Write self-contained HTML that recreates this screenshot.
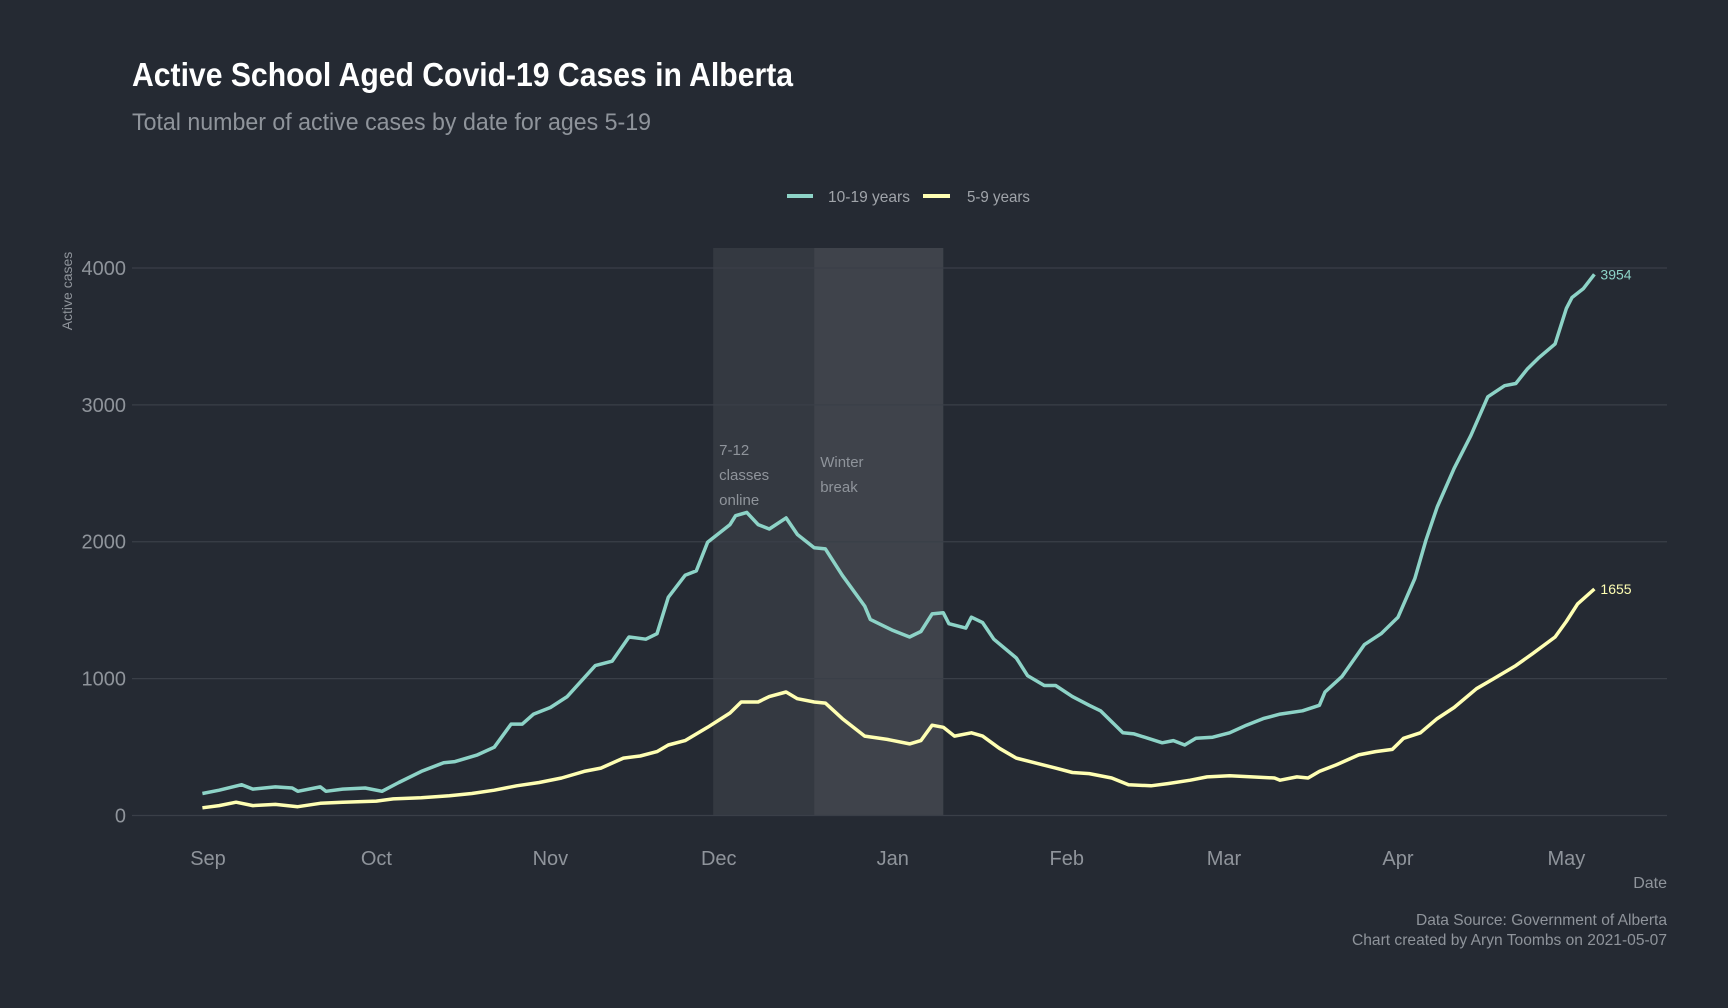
<!DOCTYPE html>
<html><head><meta charset="utf-8"><style>
html,body{margin:0;padding:0;background:#252a33;}
svg{display:block;font-family:"Liberation Sans",sans-serif;}
</style></head><body>
<svg id="chart" width="1728" height="1008" viewBox="0 0 1728 1008">
<rect width="1728" height="1008" fill="#252a33"/>
<text x="132" y="86" font-size="33" font-weight="bold" fill="#ffffff" textLength="661" lengthAdjust="spacingAndGlyphs">Active School Aged Covid-19 Cases in Alberta</text>
<text x="132" y="130" font-size="24" fill="#8f949b" textLength="519" lengthAdjust="spacingAndGlyphs">Total number of active cases by date for ages 5-19</text>
<g>
<line x1="787" y1="196" x2="813" y2="196" stroke="#8dd3c7" stroke-width="4"/>
<text x="828" y="202" font-size="16" fill="#a0a4aa" textLength="82" lengthAdjust="spacingAndGlyphs">10-19 years</text>
<line x1="923" y1="196" x2="950" y2="196" stroke="#ffffb3" stroke-width="4"/>
<text x="967" y="202" font-size="16" fill="#a0a4aa" textLength="63" lengthAdjust="spacingAndGlyphs">5-9 years</text>
</g>
<g id="shades"></g>
<g id="grid"></g>
<g id="xaxis"></g>
<g id="series"></g>
<text transform="translate(72,291) rotate(-90)" text-anchor="middle" font-size="14" fill="#8f949b">Active cases</text>
<text x="1667" y="888" text-anchor="end" font-size="16" fill="#8f949b">Date</text>
<text x="1667" y="925" text-anchor="end" font-size="16" fill="#8f949b" textLength="251" lengthAdjust="spacingAndGlyphs">Data Source: Government of Alberta</text>
<text x="1667" y="945" text-anchor="end" font-size="16" fill="#8f949b" textLength="315" lengthAdjust="spacingAndGlyphs">Chart created by Aryn Toombs on 2021-05-07</text>
</svg>
<script>
// days since Sep 1 2020
const days1019 = [-1,2,6,8,12,15,16,20,21,24,28,31,34,38,42,44,48,51,54,56,58,61,64,69,72,75,78,80,82,85,87,89,93,94,96,98,100,103,105,108,110,113,117,118,122,125,127,129,131,132,135,136,138,140,144,146,149,151,154,157,159,163,165,170,172,174,176,179,182,185,188,191,195,198,199,202,206,209,212,215,217,219,222,225,228,231,233,235,237,240,242,243,245,247];
const cases1019 = [161,185,225,193,209,201,177,209,177,193,201,177,241,322,386,394,443,499,668,668,741,789,869,1095,1127,1304,1288,1328,1594,1755,1787,1996,2125,2190,2214,2125,2093,2174,2053,1956,1948,1755,1530,1433,1352,1304,1344,1473,1481,1401,1369,1449,1409,1288,1151,1022,950,950,869,805,765,604,596,531,547,515,564,572,604,660,708,741,765,805,902,1014,1248,1328,1449,1731,2013,2254,2536,2777,3059,3140,3156,3260,3341,3445,3703,3784,3848,3954];
const days59 = [-1,2,5,8,12,16,20,24,30,33,38,43,47,51,55,59,63,67,70,74,77,80,82,85,89,93,95,98,100,103,105,108,110,113,117,121,125,127,129,131,133,136,138,141,144,148,151,154,157,161,164,168,171,175,178,182,186,190,191,194,196,198,201,205,208,211,213,216,219,222,226,229,233,236,240,242,244,247];
const cases59 = [56,72,97,72,81,64,89,97,105,121,129,145,161,185,217,241,274,322,346,419,435,467,515,547,644,749,829,829,869,902,853,829,821,708,580,556,523,547,660,644,580,604,580,491,419,378,346,314,306,274,225,217,233,258,282,290,282,274,258,282,274,322,370,443,467,483,564,604,708,789,926,998,1095,1183,1304,1417,1546,1655];
const monthLabels = ["Sep","Oct","Nov","Dec","Jan","Feb","Mar","Apr","May"];
const monthDays = [0,30,61,91,122,153,181,212,242];
const yTicks = [0,1000,2000,3000,4000];
const shadeStarts = [90,108];
const shadeEnds = [108,131];

const NS="http://www.w3.org/2000/svg";
const x = d => 208 + d*5.613;
const y = v => 815.5 - v*0.13688;
function mk(tag, parent, attrs){const e=document.createElementNS(NS,tag);for(const k in attrs)e.setAttribute(k,attrs[k]);parent.appendChild(e);return e;}

const shades=document.getElementById('shades');
const shadeFills=["rgba(255,255,255,0.07)","rgba(255,255,255,0.12)"];
const shadeNames=['shade-classes-online','shade-winter-break'];
for(let i=0;i<shadeStarts.length;i++){
  const r=mk('rect',shades,{x:x(shadeStarts[i]),y:248,width:x(shadeEnds[i])-x(shadeStarts[i]),height:815.5-248,fill:shadeFills[i]});
  
  
}
const ann=[["7-12","classes","online"],["Winter","break"]];
for(let i=0;i<ann.length;i++){
  ann[i].forEach((t,j)=>{
    const tx=mk('text',shades,{x:x(shadeStarts[i])+6,y:(i==0?455:467)+j*25,'font-size':15,fill:'#8f949b'});
    tx.textContent=t;
    
    
  });
}

const grid=document.getElementById('grid');
yTicks.forEach(v=>{
  const l=mk('line',grid,{x1:132,x2:1667,y1:y(v),y2:y(v),stroke:'#3a3f48','stroke-width':1.3});
  
  
  const t=mk('text',grid,{x:126,y:y(v)+7,'text-anchor':'end','font-size':20,fill:'#8f949b'});
  t.textContent=v;
  
  
});
const xa=document.getElementById('xaxis');
monthLabels.forEach((m,i)=>{
  const t=mk('text',xa,{x:x(monthDays[i]),y:865,'text-anchor':'middle','font-size':20,fill:'#8f949b'});
  t.textContent=m;
  
  
});

const ser=document.getElementById('series');
function line(ds,vs,color,name){
  const d=ds.map((dd,i)=>(i?'L':'M')+x(dd).toFixed(1)+','+y(vs[i]).toFixed(1)).join('');
  const p=mk('path',ser,{d:d,fill:'none',stroke:color,'stroke-width':3.5,'stroke-linejoin':'round'});
  
  
  const n=ds.length-1;
  const t=mk('text',ser,{x:x(ds[n])+6,y:y(vs[n])+5,'font-size':14,fill:color});
  t.textContent=vs[n];
  
  
}
line(days1019,cases1019,'#8dd3c7','line-10-19-years');
line(days59,cases59,'#ffffb3','line-5-9-years');
</script>
</body></html>
